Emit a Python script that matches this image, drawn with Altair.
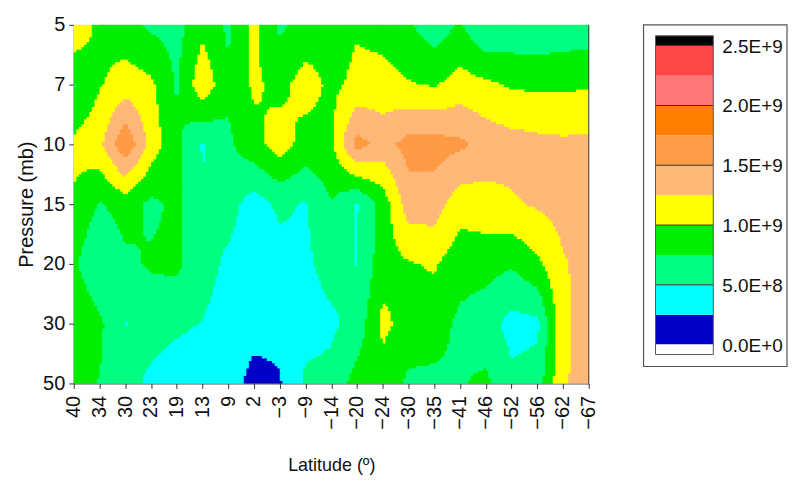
import altair as alt
import pandas as pd

# ---------------- data (values in units of 1E+9) ----------------
lat_labels = ["40", "34", "30", "23", "19", "13", "9", "2", "−3", "−9", "−14", "−20",
              "−24", "−30", "−35", "−41", "−46", "−52", "−56", "−62", "−67"]
pressure_labels = ["5", "7", "10", "15", "20", "30", "50"]

p5 = [1.22, 0.92, 0.85, 0.70, 0.66, 0.93, 0.70, 1.06, 0.70, 0.85, 0.90, 0.98, 0.90, 0.78, 0.60, 0.78, 0.49, 0.55, 0.55, 0.58, 0.60]
p7 = [0.73, 0.98, 1.12, 1.05, 0.72, 1.18, 0.80, 1.04, 0.93, 1.10, 0.95, 1.05, 1.10, 1.02, 0.98, 1.10, 1.05, 0.97, 0.95, 0.95, 0.98]
p10 = [1.05, 1.18, 1.72, 1.15, 0.80, 0.48, 0.70, 0.92, 1.12, 0.90, 0.95, 1.60, 1.40, 1.60, 1.60, 1.55, 1.40, 1.35, 1.32, 1.30, 1.30]
p15 = [0.98, 0.73, 0.85, 0.70, 0.80, 0.52, 0.60, 0.38, 0.55, 0.48, 0.74, 0.48, 0.85, 1.38, 1.38, 1.10, 1.15, 1.22, 1.28, 1.35, 1.40]
p20 = [0.80, 0.49, 0.70, 0.78, 0.80, 0.60, 0.45, 0.35, 0.40, 0.45, 0.60, 0.49, 0.90, 0.98, 1.03, 0.85, 0.85, 0.78, 0.95, 1.22, 1.35]
p30 = [1.01, 0.80, 0.49, 0.60, 0.55, 0.49, 0.40, 0.36, 0.32, 0.40, 0.45, 0.60, 1.06, 0.90, 0.85, 0.70, 0.60, 0.42, 0.44, 1.20, 1.35]
p50 = [0.80, 0.74, 0.60, 0.45, 0.35, 0.30, 0.38, 0.15, 0.23, 0.55, 0.58, 0.85, 0.90, 0.70, 0.70, 0.73, 0.80, 0.55, 0.62, 1.22, 1.35]
rows = [p5, p7, p10, p15, p20, p30, p50]

# colour bands of 2.5E+8 each
band_edges = [0.0, 0.25, 0.5, 0.75, 1.0, 1.25, 1.5, 1.75, 2.0, 2.25, 2.5]
band_colors = ["#0000C8", "#00FFFF", "#00FF80", "#00EE00", "#FFFF00",
               "#FFB878", "#FF9A45", "#FF7F00", "#FF7777", "#FF4747"]
legend_values = [0.0, 0.5, 1.0, 1.5, 2.0, 2.5]
legend_texts = ["0.0E+0", "5.0E+8", "1.0E+9", "1.5E+9", "2.0E+9", "2.5E+9"]

# ---------------- grid table for lookups ----------------
grid_records = []
for j, row in enumerate(rows):
    for i, v in enumerate(row):
        grid_records.append({"key": f"{i}_{j}", "v": v})
grid = alt.InlineData(values=grid_records)

NI = len(lat_labels) - 1        # 20 intervals
NJ = len(pressure_labels) - 1   # 6 intervals
SX, SY = 10, 24                 # cells per interval (rendering resolution)
NX, NY = NI * SX, NJ * SY

W, H = 517, 360
FONT = "Liberation Sans"

xscale = alt.Scale(domain=[0, NI], nice=False, zero=False)
yscale = alt.Scale(domain=[0, NJ], nice=False, zero=False, reverse=True)
color_scale = alt.Scale(domain=list(range(10)), range=band_colors)

lat_expr = "[" + ",".join(f"'{s}'" for s in lat_labels) + "][datum.value]"
p_expr = "[" + ",".join(f"'{s}'" for s in pressure_labels) + "][datum.value]"

x_axis = alt.Axis(values=list(range(NI + 1)), labelExpr=lat_expr, labelAngle=270,
                  title="Latitude (º)", grid=False, tickSize=5, labelPadding=7,
                  titlePadding=27, labelFontSize=20, titleFontSize=18,
                  labelFlush=False, labelOverlap=False)
y_axis = alt.Axis(values=list(range(NJ + 1)), labelExpr=p_expr,
                  title="Pressure (mb)", grid=False, tickSize=5, labelPadding=4,
                  titlePadding=6, labelFontSize=20, titleFontSize=20,
                  labelFlush=False, labelOverlap=False)

field = (
    alt.Chart(alt.sequence(0, NX * NY, as_="n"))
    .transform_calculate(ix=f"datum.n % {NX}", iy=f"floor(datum.n / {NX})")
    .transform_calculate(
        cx=f"(datum.ix + 0.5) / {SX}", cy=f"(datum.iy + 0.5) / {SY}",
        x0=f"datum.ix / {SX}", x1=f"min((datum.ix + 1.45) / {SX}, {NI})",
        y0=f"datum.iy / {SY}", y1=f"min((datum.iy + 1.45) / {SY}, {NJ})",
    )
    .transform_calculate(i0=f"min(floor(datum.cx), {NI - 1})", j0=f"min(floor(datum.cy), {NJ - 1})")
    .transform_calculate(
        fx="datum.cx - datum.i0", fy="datum.cy - datum.j0",
        k00="datum.i0 + '_' + datum.j0",
        k10="(datum.i0 + 1) + '_' + datum.j0",
        k01="datum.i0 + '_' + (datum.j0 + 1)",
        k11="(datum.i0 + 1) + '_' + (datum.j0 + 1)",
    )
    .transform_lookup(lookup="k00", from_=alt.LookupData(data=grid, key="key", fields=["v"]), as_=["v00"])
    .transform_lookup(lookup="k10", from_=alt.LookupData(data=grid, key="key", fields=["v"]), as_=["v10"])
    .transform_lookup(lookup="k01", from_=alt.LookupData(data=grid, key="key", fields=["v"]), as_=["v01"])
    .transform_lookup(lookup="k11", from_=alt.LookupData(data=grid, key="key", fields=["v"]), as_=["v11"])
    .transform_calculate(
        val="datum.v00*(1-datum.fx)*(1-datum.fy) + datum.v10*datum.fx*(1-datum.fy)"
            " + datum.v01*(1-datum.fx)*datum.fy + datum.v11*datum.fx*datum.fy"
    )
    .transform_calculate(band="clamp(floor(datum.val / 0.25), 0, 9)")
    .mark_rect(strokeWidth=0)
    .encode(
        x=alt.X("x0:Q", scale=xscale, axis=x_axis),
        x2="x1:Q",
        y=alt.Y("y0:Q", scale=yscale, axis=y_axis),
        y2="y1:Q",
        color=alt.Color("band:O", scale=color_scale, legend=None),
    )
)

right_edge = (
    alt.Chart(pd.DataFrame({"xe": [NI]}))
    .mark_rule(color="#333333", strokeWidth=1)
    .encode(x=alt.X("xe:Q", scale=xscale, axis=x_axis), y=alt.value(0), y2=alt.value(H))
)

main = alt.layer(field, right_edge).properties(width=W, height=H)

# ---------------- legend panel ----------------
LW, LH = 144, 343
ly = alt.Scale(domain=[-0.1833, 2.675], nice=False, zero=False)
SW0, SW1 = 12, 70

leg_df = pd.DataFrame({"lo": band_edges[:-1], "hi": band_edges[1:], "band": list(range(10))})
swatches = alt.Chart(leg_df).mark_rect(strokeWidth=0).encode(
    x=alt.value(SW0), x2=alt.value(SW1),
    y=alt.Y("lo:Q", scale=ly, axis=None), y2="hi:Q",
    color=alt.Color("band:O", scale=color_scale, legend=None),
)
ext_df = pd.DataFrame({"lo": [-0.083, 2.5], "hi": [0.0, 2.583], "c": ["#FFFFFF", "#000000"]})
extremes = alt.Chart(ext_df).mark_rect(strokeWidth=0).encode(
    x=alt.value(SW0), x2=alt.value(SW1),
    y=alt.Y("lo:Q", scale=ly, axis=None), y2="hi:Q",
    color=alt.Color("c:N", scale=None),
)
div_df = pd.DataFrame({"v": legend_values[1:-1]})
dividers = alt.Chart(div_df).mark_rule(color="#333333", strokeWidth=1).encode(
    x=alt.value(SW0), x2=alt.value(SW1), y=alt.Y("v:Q", scale=ly, axis=None)
)
outline_df = pd.DataFrame({"lo": [-0.083], "hi": [2.583]})
sw_outline = alt.Chart(outline_df).mark_rect(filled=False, stroke="#555555", strokeWidth=1).encode(
    x=alt.value(SW0), x2=alt.value(SW1), y=alt.Y("lo:Q", scale=ly, axis=None), y2="hi:Q"
)
lab_df = pd.DataFrame({"v": legend_values, "t": legend_texts})
labels = alt.Chart(lab_df).mark_text(align="left", baseline="middle", fontSize=19, font=FONT,
                                      color="#111111", dx=0, dy=1).encode(
    x=alt.value(79), y=alt.Y("v:Q", scale=ly, axis=None), text="t:N"
)
box = alt.Chart(pd.DataFrame({"b": [0]})).mark_rect(filled=False, stroke="#555555", strokeWidth=1.2).encode(
    x=alt.value(0), x2=alt.value(LW), y=alt.value(0), y2=alt.value(LH)
)
legend = alt.layer(swatches, extremes, dividers, sw_outline, labels, box).properties(width=LW, height=LH)

chart = (
    alt.hconcat(main, legend, spacing=44)
    .properties(padding={"left": 8, "top": 6, "right": 0, "bottom": 0})
    .configure_view(stroke=None)
    .configure_axis(labelFont=FONT, titleFont=FONT, labelColor="#111111", titleColor="#111111",
                    domainColor="#333333", tickColor="#333333", titleFontWeight="normal")
    .resolve_scale(color="independent")
)

chart.save("out.html", embed_options={"renderer": "svg", "actions": False})
